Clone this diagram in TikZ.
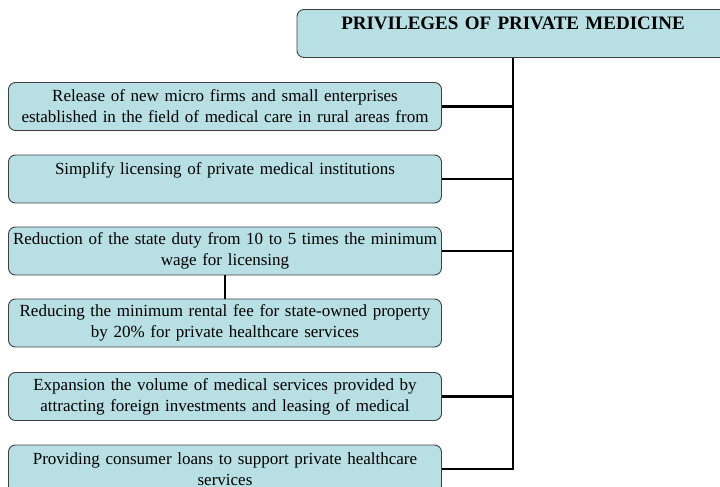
\documentclass[tikz,border=0pt]{standalone}
\usepackage{fontspec}
\setmainfont{Liberation Serif}
\definecolor{boxfill}{RGB}{184,223,227}
\definecolor{boxline}{RGB}{64,64,64}
\tikzset{
  privbox/.style={draw=boxline, line width=0.9pt, fill=boxfill, rounded corners=7pt,
    minimum width=433pt, minimum height=48pt, text width=428pt, align=center,
    inner sep=2pt, font=\fontsize{17}{21}\selectfont},
  link/.style={line width=2.8pt}
}
\begin{document}
\begin{tikzpicture}[x=1pt, y=-1pt]
        \useasboundingbox (0,0) rectangle (720,487);
        \clip (0,0) rectangle (720,487);
        \node[privbox, minimum width=432pt, text width=425pt, font=\fontsize{19}{21}\selectfont\bfseries] (title) at (513,33.5) {PRIVILEGES OF PRIVATE MEDICINE\\\mbox{}};
        \node[privbox] (b1) at (225,106.5) {Release of new micro firms and small enterprises\\established in the field of medical care in rural areas from};
        \node[privbox] (b2) at (225,179) {Simplify licensing of private medical institutions\\\mbox{}};
        \node[privbox] (b3) at (225,251) {Reduction of the state duty from 10 to 5 times the minimum\\wage for licensing};
        \node[privbox] (b4) at (225,323) {Reducing the minimum rental fee for state-owned property\\by 20\% for private healthcare services};
        \node[privbox] (b5) at (225,396.5) {Expansion the volume of medical services provided by\\attracting foreign investments and leasing of medical};
        \node[privbox] (b6) at (225,469) {Providing consumer loans to support private healthcare\\services};
        \draw[link] (title.south) |- (b6.east);
        \foreach \b in {b1,b2,b3,b5}
          \draw[link] (\b.east) -- (\b.east -| title.south);
        \draw[link] (b3.south) -- (b4.north);
    \end{tikzpicture}
\end{document}
